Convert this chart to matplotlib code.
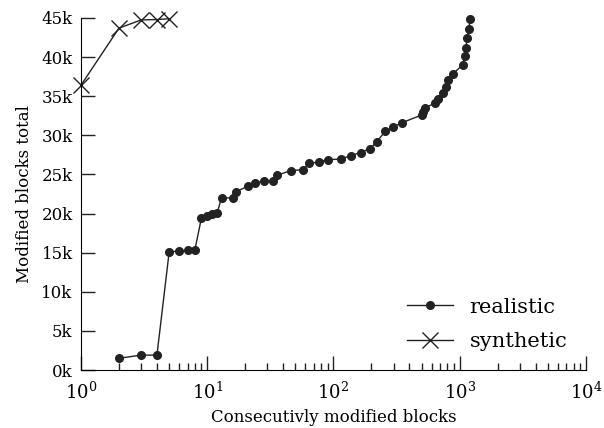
import matplotlib
matplotlib.use('Agg')
import matplotlib.pyplot as plt
from matplotlib.ticker import FuncFormatter, LogLocator, NullFormatter

plt.rcParams['font.family'] = ['DejaVu Serif']
plt.rcParams['mathtext.fontset'] = 'dejavuserif'

# realistic: consecutive run length vs cumulative modified blocks
real_x = [2, 3, 4, 5, 6, 7, 8, 9, 10, 11, 12, 13, 16, 17, 21, 24, 28, 33, 36, 46,
          57, 64, 77, 90, 114, 137, 164, 195, 221, 257, 299, 348, 500, 514, 530,
          635, 677, 740, 773, 808, 887, 1060, 1093, 1125, 1140, 1180, 1217]
real_y = [1500, 1900, 1900, 15100, 15200, 15300, 15400, 19400, 19700, 19900, 20100,
          22000, 22000, 22800, 23500, 23950, 24100, 24200, 24900, 25500, 25600,
          26400, 26600, 26900, 26950, 27400, 27800, 28300, 29200, 30500, 31100,
          31600, 32600, 33000, 33500, 34100, 34700, 35400, 36200, 37100, 37900,
          39000, 40100, 41200, 42400, 43600, 44900]

synth_x = [1, 2, 3, 4, 5]
synth_y = [36400, 43700, 44750, 44800, 44900]

col = '#222222'

fig = plt.figure(figsize=(6.04, 4.28), dpi=100)
ax = fig.add_axes([0.134, 0.1355, 0.836, 0.8225])

ax.plot(real_x, real_y, color=col, lw=1, marker='o', ms=5.5, label='realistic',
        clip_on=False)
ax.plot(synth_x, synth_y, color=col, lw=1, marker='x', ms=11, mew=1,
        label='synthetic', clip_on=False)

ax.set_xscale('log')
ax.set_xlim(1, 1e4)
ax.set_ylim(0, 45000)
ax.set_yticks(range(0, 45001, 5000))
ax.yaxis.set_major_formatter(FuncFormatter(lambda v, p: '{:d}k'.format(int(v / 1000))))
ax.xaxis.set_major_locator(LogLocator(base=10, numticks=10))
ax.xaxis.set_minor_locator(LogLocator(base=10, subs=range(2, 10), numticks=50))
ax.xaxis.set_minor_formatter(NullFormatter())

for s in ['top', 'right']:
    ax.spines[s].set_visible(False)
ax.tick_params(which='major', direction='in', length=10, width=1, labelsize=12,
               pad=6, color=col)
ax.tick_params(axis='x', which='major', labelsize=13, pad=8)
ax.tick_params(which='minor', direction='in', length=5, width=1, color=col)

ax.set_xlabel('Consecutivly modified blocks', fontsize=12, labelpad=5)
ax.set_ylabel('Modified blocks total', fontsize=12, labelpad=6)

ax.legend(loc='lower right', frameon=False, fontsize=15, handlelength=2.2,
          labelspacing=0.75, bbox_to_anchor=(1.0, 0.0))

fig.savefig('out.png', dpi=100)
